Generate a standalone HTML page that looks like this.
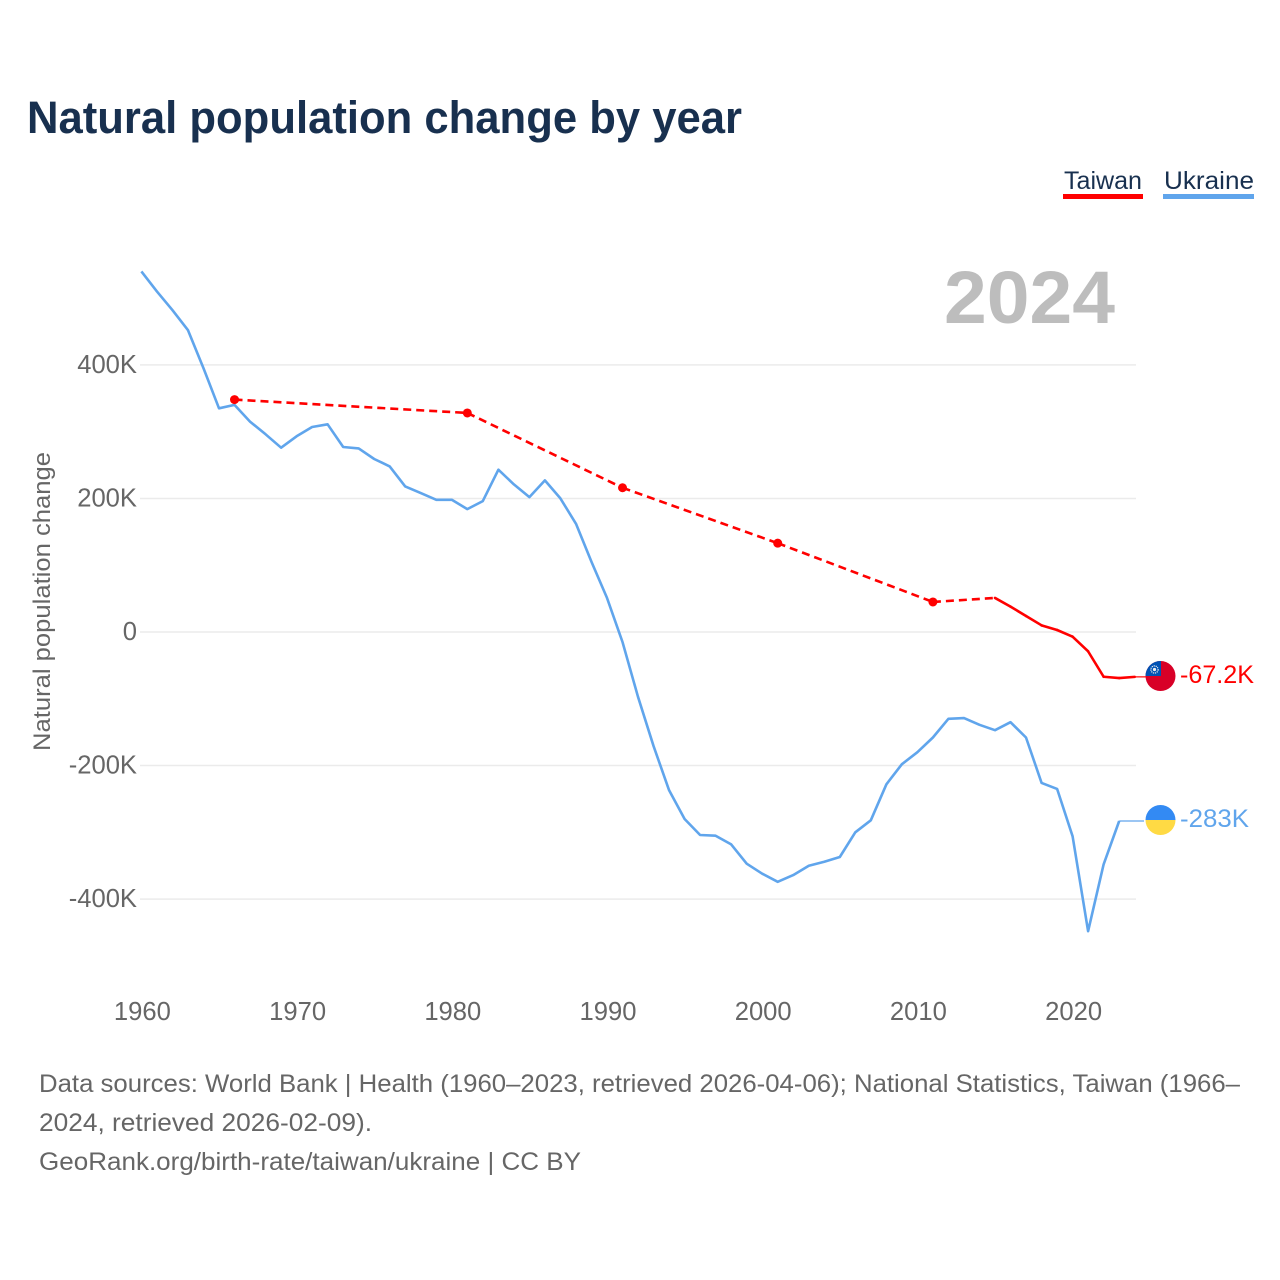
<!DOCTYPE html>
<html lang="en">
<head>
<meta charset="utf-8">
<title>Natural population change by year</title>
<style>
html,body{margin:0;padding:0;background:#fff;}
svg{display:block;font-family:"Liberation Sans",sans-serif;}
</style>
</head>
<body>
<svg id="chart" xmlns="http://www.w3.org/2000/svg" width="1280" height="1280" viewBox="0 0 1280 1280">
  <rect x="0" y="0" width="1280" height="1280" fill="#fff"/>
  <text x="27" y="133" font-size="45" font-weight="700" fill="#18304f" textLength="715" lengthAdjust="spacingAndGlyphs">Natural population change by year</text>

  <g>
    <g>
      <text x="1064" y="189" font-size="25" fill="#18304f" textLength="78" lengthAdjust="spacingAndGlyphs">Taiwan</text>
      <rect x="1063" y="194" width="80" height="5" fill="#ff0000"/>
    </g>
    <g>
      <text x="1164" y="189" font-size="25" fill="#18304f" textLength="90" lengthAdjust="spacingAndGlyphs">Ukraine</text>
      <rect x="1163" y="194" width="91" height="5" fill="#60a5ec"/>
    </g>
  </g>

  <text x="944" y="323" font-size="74" font-weight="700" fill="#bdbdbd" textLength="171" lengthAdjust="spacingAndGlyphs">2024</text>
  <text transform="translate(50,751) rotate(-90)" x="0" y="0" font-size="24" fill="#666" textLength="299" lengthAdjust="spacingAndGlyphs">Natural population change</text>

  <g id="grid"></g>
  <g id="yticks"></g>
  <g id="xticks"></g>
  <g id="series"></g>

  <g>
    <clipPath id="clip-tw"><circle cx="1160.5" cy="676" r="15"/></clipPath>
    <g clip-path="url(#clip-tw)">
      <rect x="1145" y="660" width="32" height="32" fill="#d80027"/>
      <rect x="1145" y="660" width="16" height="16" fill="#0052b4"/>
      <circle cx="1154.5" cy="669.5" r="3.6" fill="none" stroke="#f0f0f0" stroke-width="1.2" stroke-dasharray="1.2 0.8"/>
      <circle cx="1154.5" cy="669.5" r="1.6" fill="#f0f0f0"/>
    </g>
  </g>
  <g>
    <clipPath id="clip-ua"><circle cx="1160.5" cy="820" r="15"/></clipPath>
    <g clip-path="url(#clip-ua)">
      <rect x="1145" y="804" width="32" height="16" fill="#338af3"/>
      <rect x="1145" y="820" width="32" height="16" fill="#ffda44"/>
    </g>
  </g>

  <text x="1180" y="683" font-size="25" fill="#ff0000" textLength="74" lengthAdjust="spacingAndGlyphs">-67.2K</text>
  <text x="1180" y="827" font-size="25" fill="#60a5ec" textLength="69" lengthAdjust="spacingAndGlyphs">-283K</text>

  <g font-size="25" fill="#666">
    <text x="39" y="1092" textLength="1201" lengthAdjust="spacingAndGlyphs">Data sources: World Bank | Health (1960–2023, retrieved 2026-04-06); National Statistics, Taiwan (1966–</text>
    <text x="39" y="1131" textLength="333" lengthAdjust="spacingAndGlyphs">2024, retrieved 2026-02-09).</text>
    <text x="39" y="1170" textLength="542" lengthAdjust="spacingAndGlyphs">GeoRank.org/birth-rate/taiwan/ukraine | CC BY</text>
  </g>
</svg>
<script>
const yTickValues = [400, 200, 0, -200, -400];
const yTickLabels = ['400K', '200K', '0', '-200K', '-400K'];
const xTickValues = [1960, 1970, 1980, 1990, 2000, 2010, 2020];
const xTickLabels = ['1960', '1970', '1980', '1990', '2000', '2010', '2020'];
const ukraineStartYear = 1960;
const ukraineValues = [540, 510, 482, 452, 395, 335, 340, 315, 296, 276, 293, 307, 311, 277, 275, 259, 248, 218, 208, 198, 198, 184, 196, 243, 221, 202, 227, 200, 162, 105, 51, -15, -97, -171, -237, -280, -304, -305, -318, -347, -362, -374, -364, -350, -344, -337, -300, -282, -228, -198, -180, -158, -130, -129, -139, -147, -135, -158, -226, -235, -306, -448, -348, -283];
const taiwanYears = [1966, 1981, 1991, 2001, 2011, 2015, 2016, 2017, 2018, 2019, 2020, 2021, 2022, 2023, 2024];
const taiwanValues = [348, 328, 216, 133, 45, 51, 38, 24, 10, 3, -7, -29, -67, -69, -67.2];

const SVGNS = 'http://www.w3.org/2000/svg';
function xScale(year) { return 141.4 + (year - 1960) * 15.52; }
function yScale(value) { return 632 - value * 0.6678; }
function make(tag, attrs, parent) {
  const el = document.createElementNS(SVGNS, tag);
  Object.keys(attrs).forEach(function (k) { el.setAttribute(k, attrs[k]); });
  parent.appendChild(el);
  return el;
}

const gridG = document.getElementById('grid');
const yG = document.getElementById('yticks');
const xG = document.getElementById('xticks');
const seriesG = document.getElementById('series');

yTickValues.forEach(function (v, i) {
  const line = make('line', { x1: 140, x2: 1136, y1: yScale(v), y2: yScale(v), stroke: '#ebebeb', 'stroke-width': 1.5 }, gridG);
  
  
  const t = make('text', { x: 137, y: yScale(v) + 8, 'text-anchor': 'end', 'font-size': 25.6, fill: '#666' }, yG);
  t.textContent = yTickLabels[i];
  
  
});

xTickValues.forEach(function (v, i) {
  const t = make('text', { x: xScale(v) + 1, y: 1020, 'text-anchor': 'middle', 'font-size': 25.6, fill: '#666' }, xG);
  t.textContent = xTickLabels[i];
  
  
});

// Ukraine line
const uaPoints = ukraineValues.map(function (v, i) {
  return xScale(ukraineStartYear + i).toFixed(1) + ',' + yScale(v).toFixed(1);
}).join(' ');
const uaLine = make('polyline', { points: uaPoints, fill: 'none', stroke: '#60a5ec', 'stroke-width': 2.6, 'stroke-linejoin': 'round' }, seriesG);



const lastUkraineYear = ukraineStartYear + ukraineValues.length - 1;
const lastUkraineValue = ukraineValues[ukraineValues.length - 1];
const uaConn = make('line', { x1: xScale(lastUkraineYear), y1: yScale(lastUkraineValue), x2: 1144, y2: yScale(lastUkraineValue), stroke: '#60a5ec', 'stroke-width': 1.2 }, seriesG);



// Taiwan line: dashed across gaps in the annual record, solid otherwise
for (let i = 0; i < taiwanYears.length - 1; i++) {
  const gap = taiwanYears[i + 1] - taiwanYears[i] > 1;
  const seg = make('line', {
    x1: xScale(taiwanYears[i]), y1: yScale(taiwanValues[i]),
    x2: xScale(taiwanYears[i + 1]), y2: yScale(taiwanValues[i + 1]),
    stroke: '#ff0000', 'stroke-width': 2.6, 'stroke-linecap': gap ? 'butt' : 'round',
    'stroke-dasharray': gap ? '8 5' : 'none'
  }, seriesG);
  
  
}

taiwanYears.forEach(function (y, i) {
  const prevGap = i === 0 || y - taiwanYears[i - 1] > 1;
  const nextGap = i === taiwanYears.length - 1 || taiwanYears[i + 1] - y > 1;
  if (prevGap && nextGap) {
    const dot = make('circle', { cx: xScale(y), cy: yScale(taiwanValues[i]), r: 4.5, fill: '#ff0000' }, seriesG);
    
    
  }
});

const lastTaiwanYear = taiwanYears[taiwanYears.length - 1];
const lastTaiwanValue = taiwanValues[taiwanValues.length - 1];
const twConn = make('line', { x1: xScale(lastTaiwanYear), y1: yScale(lastTaiwanValue), x2: 1146, y2: yScale(lastTaiwanValue), stroke: '#ff0000', 'stroke-width': 1.2 }, seriesG);


</script>
</body>
</html>
